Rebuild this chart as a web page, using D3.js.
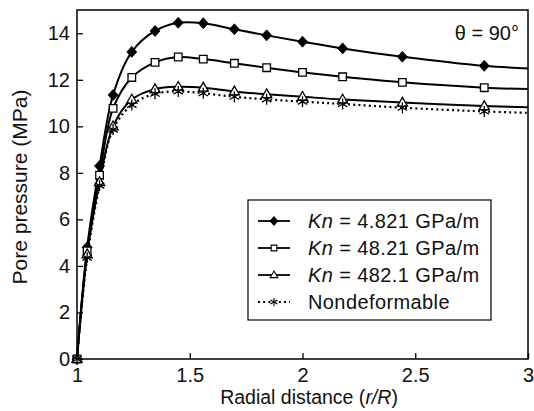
<!DOCTYPE html>
<html>
<head>
<meta charset="utf-8">
<script src="https://cdn.jsdelivr.net/npm/d3@7"></script>
<style>
  body { margin: 0; background: #fff; }
  svg { display: block; font-family: 'Liberation Sans', Arial, sans-serif; }
</style>
</head>
<body>
<svg id="chart" width="534" height="411"></svg>
<script>
// radial distance r/R (last point has no marker in the original figure)
const radius = [1.0, 1.045, 1.1, 1.16, 1.243, 1.346, 1.449, 1.56, 1.698, 1.841, 2.0, 2.178, 2.443, 2.806, 3.0];

// pore pressure (MPa)
const kn4821 = [0, 4.8, 8.3, 11.35, 13.2, 14.1, 14.45, 14.43, 14.17, 13.91, 13.64, 13.35, 12.99, 12.6, 12.49];
const kn4821b = [0, 4.65, 7.9, 10.77, 12.1, 12.75, 12.98, 12.89, 12.71, 12.52, 12.32, 12.13, 11.89, 11.66, 11.6];
const kn4821c = [0, 4.5, 7.6, 10.0, 11.15, 11.6, 11.7, 11.66, 11.5, 11.38, 11.27, 11.15, 11.02, 10.87, 10.82];
const nondeformable = [0, 4.35, 7.45, 9.86, 10.92, 11.4, 11.5, 11.42, 11.27, 11.16, 11.06, 10.96, 10.8, 10.64, 10.58];

const legendLabels = ['4.821 GPa/m', '48.21 GPa/m', '482.1 GPa/m', 'Nondeformable'];
const xTicks = [1, 1.5, 2, 2.5, 3];
const yTicks = [0, 2, 4, 6, 8, 10, 12, 14];

const margin = { top: 10, right: 6, bottom: 52, left: 77 };
const width = 534 - margin.left - margin.right;
const height = 411 - margin.top - margin.bottom;

// marker shapes
const markers = {
  diamond: (r) => `M0,${-r * 1.1}L${r},0L0,${r * 1.1}L${-r},0Z`,
  square: (r) => `M${-r},${-r}H${r}V${r}H${-r}Z`,
  triangle: (r) => `M0,${-r * 1.15}L${r * 1.1},${r * 0.75}L${-r * 1.1},${r * 0.75}Z`,
  star: (r) => {
    const a = r * Math.cos(Math.PI / 6), b = r * 0.5;
    return `M0,${-r}V${r}M${-a},${-b}L${a},${b}M${-a},${b}L${a},${-b}`;
  }
};

const series = [
  { values: kn4821, marker: 'diamond', size: 5, fill: '#000', dash: null, kn: true },
  { values: kn4821b, marker: 'square', size: 3.8, fill: '#fff', dash: null, kn: true },
  { values: kn4821c, marker: 'triangle', size: 4.6, fill: '#fff', dash: null, kn: true },
  { values: nondeformable, marker: 'star', size: 5.5, fill: 'none', dash: '2,3.2', kn: false }
];

const svg = d3.select('#chart');
const chart = svg.append('g')
  .attr('transform', `translate(${margin.left}, ${margin.top})`);

const xScale = d3.scaleLinear().domain([1, 3]).range([0, width]);
const yScale = d3.scaleLinear().domain([0, 15]).range([height, 0]);

// axes with inward ticks
const yAxis = chart.append('g')
  .call(d3.axisLeft(yScale).tickValues(yTicks).tickSizeInner(-6).tickSizeOuter(0).tickPadding(7));
const xAxis = chart.append('g')
  .attr('transform', `translate(0, ${height})`)
  .call(d3.axisBottom(xScale).tickValues(xTicks).tickFormat(d3.format('')).tickSizeInner(-6).tickSizeOuter(0).tickPadding(9));

[xAxis, yAxis].forEach((ax) => {
  ax.select('.domain').remove();
  ax.attr('font-size', 20).attr('font-family', null);
  ax.selectAll('line').attr('stroke', '#000').attr('stroke-width', 1.3);
  ax.selectAll('text').attr('fill', '#111');
});

const line = d3.line()
  .x((d, i) => xScale(radius[i]))
  .y((d) => yScale(d))
  .curve(d3.curveCatmullRom.alpha(0.5));

series.forEach((s) => {
  chart.append('path')
    .datum(s.values)
    .attr('d', line)
    .attr('fill', 'none')
    .attr('stroke', '#000')
    .attr('stroke-width', s.dash ? 2.2 : 2)
    .attr('stroke-dasharray', s.dash);
});

series.forEach((s) => {
  chart.selectAll(null)
    .data(s.values.slice(0, -1))
    .enter()
    .append('path')
    .attr('transform', (d, i) => `translate(${xScale(radius[i])}, ${yScale(d)})`)
    .attr('d', markers[s.marker](s.size))
    .attr('fill', s.fill)
    .attr('stroke', '#000')
    .attr('stroke-width', s.marker === 'diamond' ? 0.8 : 1.3);
});

// frame
chart.append('rect')
  .attr('width', width)
  .attr('height', height)
  .attr('fill', 'none')
  .attr('stroke', '#000')
  .attr('stroke-width', 1.5);

chart.append('text')
  .attr('x', 442)
  .attr('y', 30)
  .attr('text-anchor', 'end')
  .attr('font-size', 20)
  .attr('fill', '#111')
  .text('θ = 90°');

// legend
const legend = chart.append('g')
  .attr('transform', `translate(${171}, ${190})`);

legend.append('rect')
  .attr('width', 243)
  .attr('height', 120)
  .attr('fill', '#fff')
  .attr('stroke', '#000')
  .attr('stroke-width', 1.2);

series.forEach((s, i) => {
  const row = legend.append('g')
    .attr('transform', `translate(0, ${21 + i * 27})`);
  row.append('line')
    .attr('x1', 10).attr('x2', 42)
    .attr('stroke', '#000')
    .attr('stroke-width', s.dash ? 2 : 1.8)
    .attr('stroke-dasharray', s.dash);
  row.append('path')
    .attr('transform', 'translate(26, 0)')
    .attr('d', markers[s.marker](s.size * 0.75))
    .attr('fill', s.fill)
    .attr('stroke', '#000')
    .attr('stroke-width', 1.1);
  const label = row.append('text')
    .attr('x', 60)
    .attr('y', 7)
    .attr('font-size', 20)
    .attr('letter-spacing', 0.4)
    .attr('fill', '#111');
  if (s.kn) {
    label.append('tspan').attr('font-style', 'italic').text('Kn');
    label.append('tspan').text(' = ' + legendLabels[i]);
  } else {
    label.text(legendLabels[i]);
  }
});

// axis titles
const xTitle = svg.append('text')
  .attr('x', 309)
  .attr('y', 404)
  .attr('text-anchor', 'middle')
  .attr('font-size', 19.5)
  .attr('fill', '#111');
xTitle.append('tspan').text('Radial distance (');
xTitle.append('tspan').attr('font-style', 'italic').text('r/R');
xTitle.append('tspan').text(')');

svg.append('text')
  .attr('transform', 'translate(27, 187) rotate(-90)')
  .attr('text-anchor', 'middle')
  .attr('font-size', 21)
  .attr('fill', '#111')
  .text('Pore pressure (MPa)');
</script>
</body>
</html>
